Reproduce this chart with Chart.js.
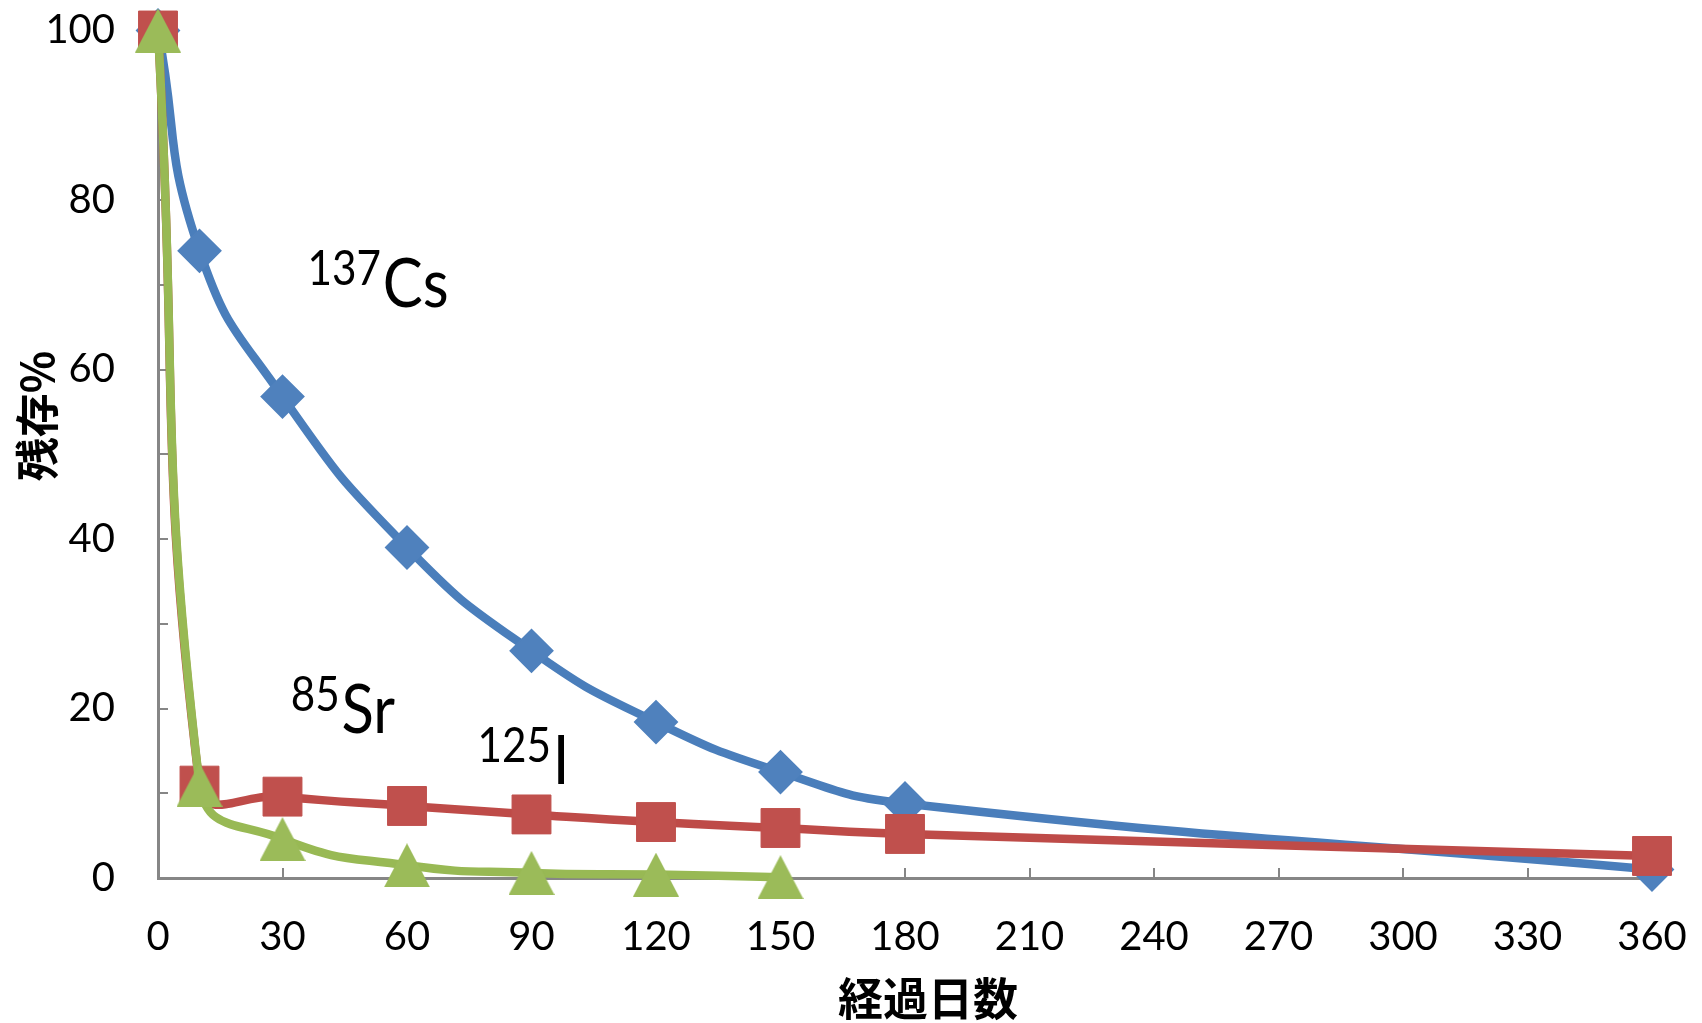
<!DOCTYPE html>
<html>
<head>
<meta charset="utf-8">
<script src="https://cdn.jsdelivr.net/npm/chart.js@4.4.1/dist/chart.umd.min.js"></script>
<style>
  html, body { margin: 0; padding: 0; background: #ffffff; }
  canvas { display: block; }
</style>
</head>
<body>
<canvas id="chart" width="1702" height="1023"></canvas>
<script>
// Days elapsed since intake (x axis)
const days = [0, 10, 30, 60, 90, 120, 150, 180, 360];

// Percent remaining for each nuclide
const cs137 = [100, 74, 56.8, 39, 26.8, 18.4, 12.5, 8.8, 1.0];
const sr85  = [100, 10.9, 9.6, 8.5, 7.5, 6.6, 5.9, 5.2, 2.6];
const i125  = [100, 11, 4.6, 1.5, 0.6, 0.4, 0.1];

// Axis titles
const xTitle = '経過日数';
const yTitle = '残存%';

// Nuclide labels: mass number, symbol, anchor (day, percent) of the baseline start
const nuclideLabels = [
  { mass: '137', symbol: 'Cs', day: 36, pct: 67.4 },
  { mass: '85',  symbol: 'Sr', day: 32, pct: 17.1 },
  { mass: '125', symbol: 'I',  day: 77, pct: 11.1 }
];

const toPoints = (vals) => vals.map((v, i) => ({ x: days[i], y: v }));

function triangleMarker(w, h, color) {
  const c = document.createElement('canvas');
  c.width = w; c.height = h;
  const g = c.getContext('2d');
  g.fillStyle = color;
  g.beginPath();
  g.moveTo(w / 2, 0);
  g.lineTo(w, h);
  g.lineTo(0, h);
  g.closePath();
  g.fill();
  return c;
}

// keep the plot area exactly where the layout padding puts it
function noEdgePadding(scale) {
  scale.paddingTop = 0;
  scale.paddingBottom = 0;
  scale.paddingLeft = 0;
  scale.paddingRight = 0;
}

const textPlugin = {
  id: 'chartText',
  afterDraw(chart) {
    const { ctx, scales: { x, y } } = chart;
    ctx.save();
    ctx.fillStyle = '#000000';

    // nuclide names with superscript mass numbers (slightly condensed)
    ctx.textAlign = 'left';
    ctx.textBaseline = 'alphabetic';
    const squeeze = 0.88;
    nuclideLabels.forEach(l => {
      const px = x.getPixelForValue(l.day);
      const py = y.getPixelForValue(l.pct);
      ctx.save();
      ctx.translate(px, py);
      ctx.scale(squeeze, 1);
      ctx.font = '48px Lato';
      ctx.fillText(l.mass, 0, -22);
      const w = ctx.measureText(l.mass).width;
      ctx.font = '68px Lato';
      ctx.fillText(l.symbol, w + 2, 0);
      ctx.restore();
    });

    // axis titles
    ctx.textAlign = 'center';
    ctx.textBaseline = 'middle';
    ctx.font = 'bold 45px "Noto Sans CJK JP"';
    ctx.fillText(xTitle, 928, 999);

    ctx.translate(37, 416);
    ctx.rotate(-Math.PI / 2);
    ctx.font = 'bold 44px "Noto Sans CJK JP"';
    ctx.fillText(yTitle, 0, 0);
    ctx.restore();
  }
};

const axisColor = '#868686';

new Chart(document.getElementById('chart'), {
  type: 'line',
  data: {
    datasets: [
      {
        label: '125I',
        data: toPoints(i125),
        borderColor: '#98B954',
        backgroundColor: '#9BBB59',
        borderWidth: 8.5,
        pointStyle: triangleMarker(46, 44, '#9BBB59'),
        pointRadius: 22,
        tension: 0.5,
        clip: false,
        order: 0
      },
      {
        label: '85Sr',
        data: toPoints(sr85),
        borderColor: '#BE4B48',
        backgroundColor: '#C0504D',
        borderWidth: 8.5,
        pointStyle: 'rect',
        pointRadius: 27.5,
        pointBorderWidth: 1,
        pointBorderColor: '#C0504D',
        pointBackgroundColor: '#C0504D',
        tension: 0.5,
        clip: false,
        order: 1
      },
      {
        label: '137Cs',
        data: toPoints(cs137),
        borderColor: '#4A7EBB',
        backgroundColor: '#4F81BD',
        borderWidth: 8.5,
        pointStyle: 'rectRot',
        pointRadius: 21,
        pointBorderWidth: 2,
        pointBorderColor: '#4F81BD',
        pointBackgroundColor: '#4F81BD',
        tension: 0.5,
        clip: false,
        order: 2
      }
    ]
  },
  options: {
    responsive: false,
    animation: false,
    devicePixelRatio: 1,
    layout: { padding: { left: 0, right: 50, top: 28, bottom: 0 } },
    plugins: {
      legend: { display: false },
      tooltip: { enabled: false }
    },
    scales: {
      x: {
        type: 'linear',
        min: 0,
        max: 360,
        afterFit(scale) { scale.height = 145; noEdgePadding(scale); },
        ticks: {
          stepSize: 30,
          padding: 45,
          color: '#000000',
          font: { family: 'Lato', size: 40 },
          maxRotation: 0
        },
        grid: {
          drawOnChartArea: false,
          drawTicks: true,
          tickLength: -10,
          color: axisColor,
          lineWidth: 2
        },
        border: { display: true, color: axisColor, width: 3 }
      },
      y: {
        type: 'linear',
        min: 0,
        max: 100,
        afterFit(scale) { scale.width = 158; noEdgePadding(scale); },
        ticks: {
          stepSize: 10,
          padding: 53,
          color: '#000000',
          font: { family: 'Lato', size: 40 },
          callback: (v) => (v % 20 === 0 ? String(v) : '')
        },
        grid: {
          drawOnChartArea: false,
          drawTicks: true,
          tickLength: -10,
          color: axisColor,
          lineWidth: 2
        },
        border: { display: true, color: axisColor, width: 3 }
      }
    }
  },
  plugins: [textPlugin]
});
</script>
</body>
</html>
